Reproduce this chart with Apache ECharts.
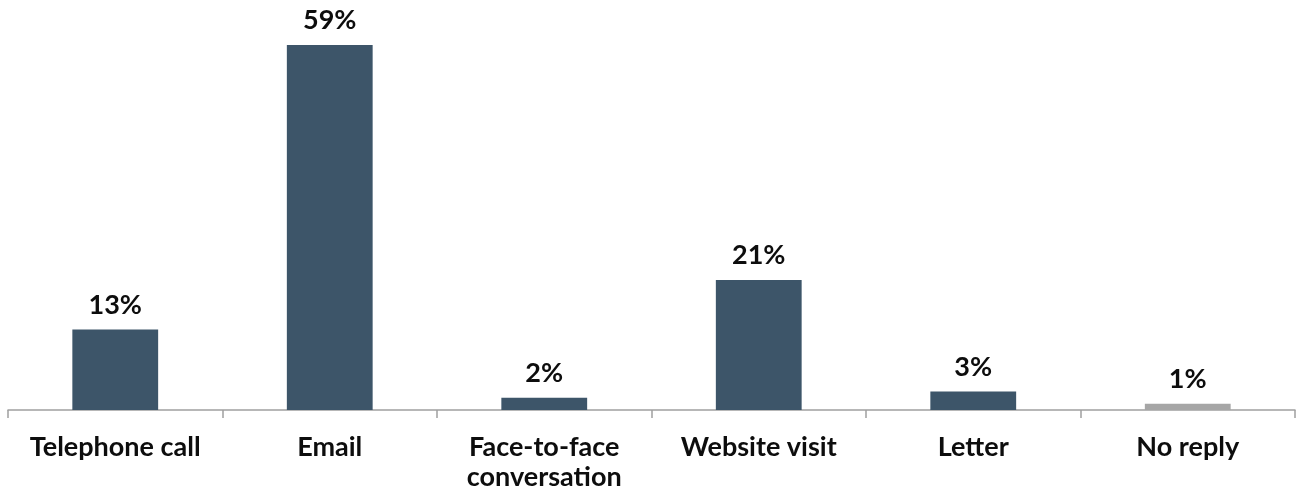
<!DOCTYPE html>
<html>
<head>
<meta charset="utf-8">
<script src="https://cdn.jsdelivr.net/npm/echarts@6/dist/echarts.min.js"></script>
<style>
  html, body { margin: 0; padding: 0; background: #ffffff; }
  #chart { width: 1301px; height: 493px; }
</style>
</head>
<body>
<div id="chart"></div>
<script>
// Preferred contact method, share of respondents (%)
const categories = ['Telephone call', 'Email', 'Face-to-face\nconversation', 'Website visit', 'Letter', 'No reply'];
const shares = [13, 59, 2, 21, 3, 1];
const barColors = ['#3d5569', '#3d5569', '#3d5569', '#3d5569', '#3d5569', '#a6a6a6'];

const chart = echarts.init(document.getElementById('chart'));
chart.setOption({
  animation: false,
  grid: { left: 8, right: 6, top: 8, bottom: 83 },
  xAxis: {
    type: 'category',
    data: categories,
    axisLine: { lineStyle: { color: '#a0a0a0', width: 1.5 } },
    axisTick: { show: true, length: 8, lineStyle: { color: '#a0a0a0', width: 1.5 } },
    axisLabel: {
      margin: 22,
      fontFamily: 'Lato',
      fontWeight: 'bold',
      fontSize: 27,
      color: '#0d0d0d',
      lineHeight: 30,
      interval: 0
    }
  },
  yAxis: {
    type: 'value',
    min: 0,
    max: 65,
    show: false,
    splitLine: { show: false }
  },
  series: [{
    type: 'bar',
    barWidth: '40%',
    data: shares.map((v, i) => ({ value: v, itemStyle: { color: barColors[i] } })),
    label: {
      show: true,
      position: 'top',
      distance: 11,
      formatter: '{c}%',
      fontFamily: 'Lato',
      fontWeight: 'bold',
      fontSize: 27,
      color: '#0d0d0d'
    }
  }]
});
</script>
</body>
</html>
